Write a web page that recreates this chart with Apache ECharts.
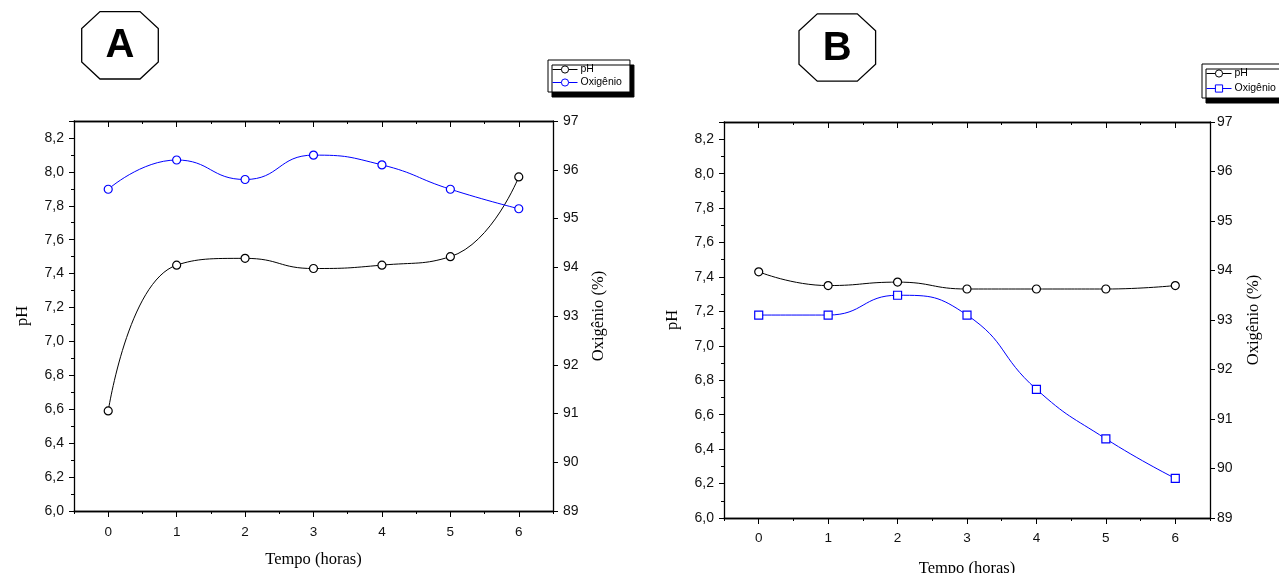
<!DOCTYPE html>
<html><head><meta charset="utf-8">
<script src="https://cdn.jsdelivr.net/npm/echarts@6.0.0/dist/echarts.min.js"></script>
<style>html,body{margin:0;padding:0;background:#fff}#c{width:1279px;height:573px}</style>
</head><body><div id="c"></div>
<script>
// ---- data ----
const hours = ['0', '1', '2', '3', '4', '5', '6'];
const phA = [6.59, 7.45, 7.49, 7.43, 7.45, 7.50, 7.97];
const oxA = [95.6, 96.2, 95.8, 96.3, 96.1, 95.6, 95.2];
const phB = [7.43, 7.35, 7.37, 7.33, 7.33, 7.33, 7.35];
const oxB = [93.1, 93.1, 93.5, 93.1, 91.6, 90.6, 89.8];
const phRange = [6.0, 8.3];
const phStep = 0.2;
const oxRange = [89, 97];
const oxStep = 1;
const panelLabels = ['A', 'B'];
const xTitle = 'Tempo (horas)';
const phTitle = 'pH';
const oxTitle = 'Oxigênio (%)';

const SANS = 'Liberation Sans, Arial, sans-serif';
const SERIF = 'Liberation Serif, Times New Roman, serif';
const BLACK = '#000';
const BLUE = '#0000ff';

const grids = [
  {left: 74, top: 121, width: 479, height: 390, outerBoundsMode: 'none', containLabel: false},
  {left: 724, top: 122, width: 486, height: 396, outerBoundsMode: 'none', containLabel: false}
];
const cfg = [
  {xLabelMargin: 14, xNameGap: 40, phGap: 43, oxGap: 37, oxLabelMargin: 10},
  {xLabelMargin: 13, xNameGap: 42, phGap: 43, oxGap: 35, oxLabelMargin: 7}
];

const xAxis = [], yAxis = [];
grids.forEach((g, i) => {
  const c = cfg[i];
  const base = {type: 'category', data: hours, gridIndex: i, boundaryGap: true,
    axisLine: {show: true, onZero: false, lineStyle: {color: BLACK, width: 1.3}},
    splitLine: {show: false}};
  xAxis.push(Object.assign({}, base, {position: 'bottom',
    axisTick: {show: true, alignWithLabel: true, length: 6, lineStyle: {color: BLACK}},
    axisLabel: {show: true, color: '#111', fontFamily: SANS, fontSize: 13.5, margin: c.xLabelMargin},
    name: xTitle, nameLocation: 'middle', nameGap: c.xNameGap,
    nameTextStyle: {fontFamily: SERIF, fontSize: 16.5, color: BLACK}}));
  xAxis.push(Object.assign({}, base, {position: 'bottom',
    axisTick: {show: true, length: 3, lineStyle: {color: BLACK}}, axisLabel: {show: false}}));
  xAxis.push(Object.assign({}, base, {position: 'top',
    axisTick: {show: true, inside: true, alignWithLabel: true, length: 6, lineStyle: {color: BLACK}}, axisLabel: {show: false}}));
  xAxis.push(Object.assign({}, base, {position: 'top',
    axisTick: {show: true, inside: true, length: 3, lineStyle: {color: BLACK}}, axisLabel: {show: false}}));

  yAxis.push({type: 'value', gridIndex: i, position: 'left', min: phRange[0], max: phRange[1], interval: phStep,
    axisLine: {show: true, onZero: false, lineStyle: {color: BLACK, width: 1.3}},
    axisTick: {show: true, length: 5, lineStyle: {color: BLACK}},
    splitLine: {show: false},
    axisLabel: {color: '#111', fontFamily: SANS, fontSize: 14, margin: 10,
      formatter: v => Math.abs(v - phRange[1]) < 1e-6 ? '' : v.toFixed(1).replace('.', ',')},
    name: phTitle, nameLocation: 'middle', nameGap: c.phGap, nameRotate: 90,
    nameTextStyle: {fontFamily: SERIF, fontSize: 16.5, color: BLACK}});
  yAxis.push({type: 'value', gridIndex: i, position: 'left', min: phRange[0], max: phRange[1], interval: phStep / 2,
    axisLine: {show: false}, axisTick: {show: true, length: 3, lineStyle: {color: BLACK}},
    splitLine: {show: false}, axisLabel: {show: false}});
  yAxis.push({type: 'value', gridIndex: i, position: 'right', min: oxRange[0], max: oxRange[1], interval: oxStep,
    axisLine: {show: true, onZero: false, lineStyle: {color: BLACK, width: 1.3}},
    axisTick: {show: true, length: 5, lineStyle: {color: BLACK}},
    splitLine: {show: false},
    axisLabel: {color: '#111', fontFamily: SANS, fontSize: 14, margin: c.oxLabelMargin},
    name: oxTitle, nameLocation: 'middle', nameGap: c.oxGap, nameRotate: 90,
    nameTextStyle: {fontFamily: SERIF, fontSize: 16.5, color: BLACK}});
});

function lineSeries(name, data, gi, yIdx, color, symbol) {
  return {type: 'line', name, data, xAxisIndex: gi * 4, yAxisIndex: gi * 3 + yIdx,
    smooth: 0.5, symbol, symbolSize: 8, showSymbol: true,
    lineStyle: {color, width: 1},
    itemStyle: {color: '#fff', borderColor: color, borderWidth: 1.2},
    emphasis: {disabled: true}, z: 3};
}

const series = [
  lineSeries('pH', phA, 0, 0, BLACK, 'circle'),
  lineSeries('Oxigênio', oxA, 0, 2, BLUE, 'circle'),
  lineSeries('pH B', phB, 1, 0, BLACK, 'circle'),
  lineSeries('Oxigênio B', oxB, 1, 2, BLUE, 'rect')
];

const legendBase = {orient: 'vertical', itemWidth: 25, itemHeight: 9, itemGap: 2,
  padding: [4, 8, 4, 4], backgroundColor: '#fff', borderColor: BLACK, borderWidth: 1,
  shadowColor: BLACK, shadowOffsetX: 4, shadowOffsetY: 5, shadowBlur: 0,
  lineStyle: {width: 1}, itemStyle: {borderWidth: 1},
  textStyle: {fontFamily: SANS, fontSize: 10.5, color: BLACK, padding: [0, 0, 0, -2]},
  formatter: n => n.replace(/ B$/, ''), selectedMode: false};
const legend = [
  Object.assign({}, legendBase, {data: ['pH', 'Oxigênio'], left: 548, top: 60}),
  Object.assign({}, legendBase, {data: ['pH B', 'Oxigênio B'], left: 1202, top: 64, itemGap: 4})
];

function octagon(cx, cy) {
  const hw = 38.3, hh = 33.7, tf = 20, sf = 16.7;
  return [[cx - tf, cy - hh], [cx + tf, cy - hh], [cx + hw, cy - sf], [cx + hw, cy + sf],
          [cx + tf, cy + hh], [cx - tf, cy + hh], [cx - hw, cy + sf], [cx - hw, cy - sf]];
}
const octCenters = [[120, 45.3], [837.3, 47.5]];
const graphic = [];
octCenters.forEach((c, i) => {
  graphic.push({type: 'polygon', shape: {points: octagon(c[0], c[1])},
    style: {fill: '#fff', stroke: BLACK, lineWidth: 1.3}, z: 10});
  graphic.push({type: 'text', x: c[0], y: c[1] + 1, z: 11,
    style: {text: panelLabels[i], fill: BLACK, font: 'bold 40px ' + SANS, align: 'center', verticalAlign: 'middle'}});
});

const chart = echarts.init(document.getElementById('c'), null, {renderer: 'canvas'});
chart.setOption({animation: false, backgroundColor: '#fff', grid: grids, xAxis, yAxis, series, legend, graphic});
</script></body></html>
